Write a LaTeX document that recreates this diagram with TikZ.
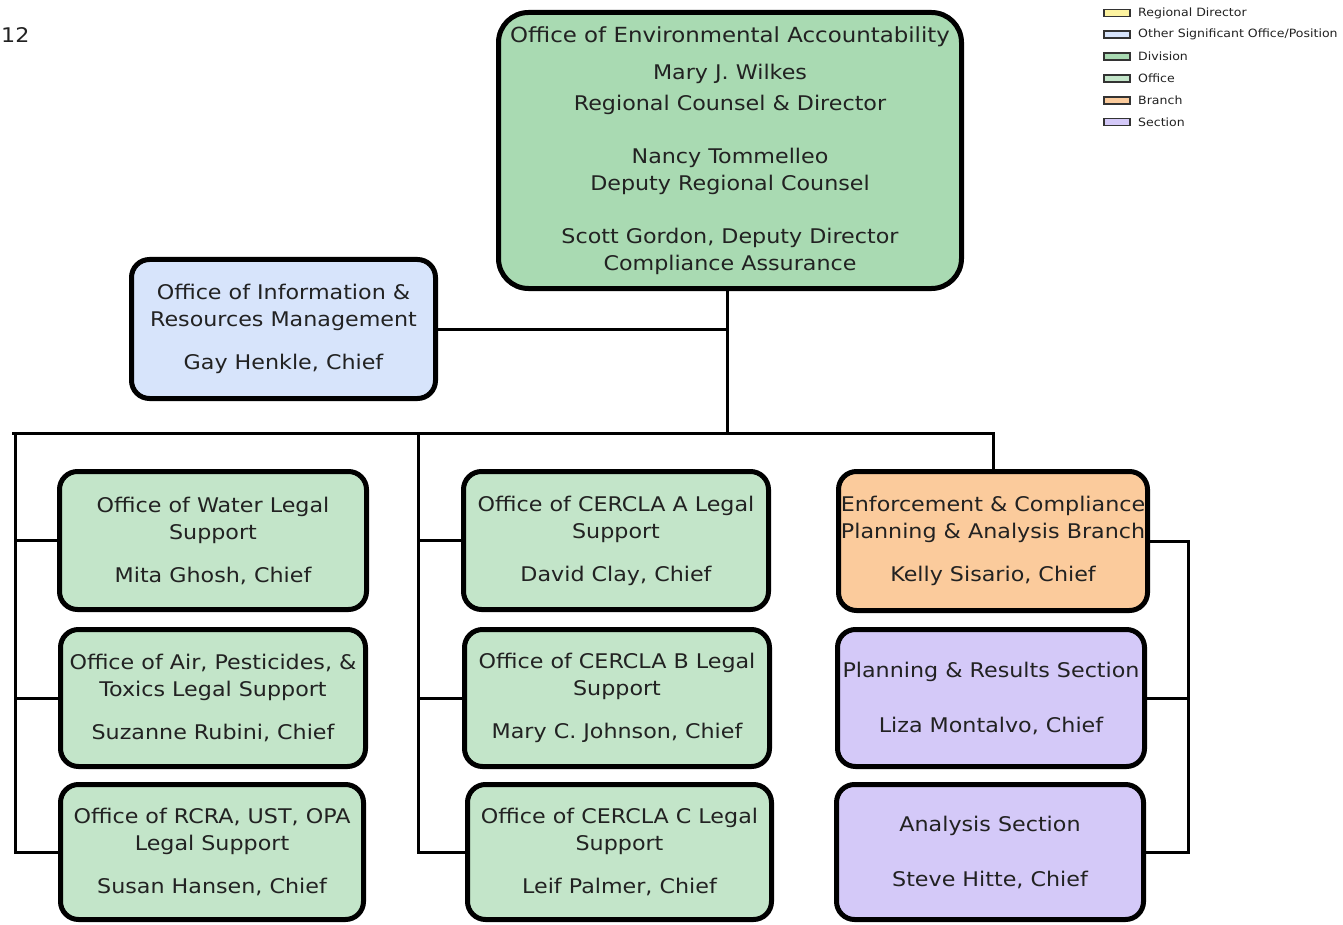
\documentclass[tikz,border=0pt]{standalone}
\usepackage{fontspec}
\setmainfont{DejaVu Sans}[FakeStretch=1.1]
\definecolor{divgreen}{HTML}{A9DAB2}
\definecolor{offgreen}{HTML}{C3E5C9}
\definecolor{sigblue}{HTML}{D7E4FB}
\definecolor{brorange}{HTML}{FBCB9C}
\definecolor{secpurple}{HTML}{D4C9F8}
\definecolor{rdyellow}{HTML}{FDF3A0}
\definecolor{ink}{HTML}{222222}
\tikzset{
  box/.style={draw=black, line width=5pt, rounded corners=18pt, align=center,
    inner sep=0pt, text=ink, font=\fontsize{20.2}{27}\selectfont},
  conn/.style={draw=black, line width=3pt},
  legbox/.style={draw=black!80, line width=1.8pt, minimum width=26pt, minimum height=7pt, inner sep=0pt},
  legtext/.style={anchor=west, inner sep=0pt, text=ink, font=\fontsize{11.4}{12}\selectfont}
}
\begin{document}
\begin{tikzpicture}[x=1pt,y=-1pt]
\path[use as bounding box, fill=white] (0,0) rectangle (1343,925);

% page number at the top left
\node[anchor=west, inner sep=0pt, text=ink, font=\fontsize{20.2}{22}\selectfont] (pnum) at (1,35) {12};

% legend
\foreach \i/\c/\t in {0/rdyellow/{Regional Director},
                       1/sigblue/{Other Significant Office/Position},
                       2/divgreen/{Division},
                       3/offgreen/{Office},
                       4/brorange/{Branch},
                       5/secpurple/{Section}}{
  \node[legbox, fill=\c] (leg\i) at (1117,13+21.8*\i) {};
  \node[legtext] (legt\i) at (1138,13+21.8*\i) {\t};
}

% top-level office
\node[box, fill=divgreen, rounded corners=30pt, minimum width=463pt, minimum height=276pt] (top) at (730,150.5)
  {\fontsize{20.8}{27}\selectfont Office of Environmental Accountability\\[10pt]
   Mary J. Wilkes\\[4pt]
   Regional Counsel \& Director\\[26pt]
   Nancy Tommelleo\\
   Deputy Regional Counsel\\[26pt]
   Scott Gordon, Deputy Director\\
   Compliance Assurance};

\node[box, fill=sigblue, minimum width=304pt, minimum height=139pt] (info) at (283.5,329)
  {Office of Information \&\\ Resources Management\\[16pt] Gay Henkle, Chief};

% left column
\node[box, fill=offgreen, minimum width=307pt, minimum height=138pt] (water) at (213,540.5)
  {Office of Water Legal\\ Support\\[16pt] Mita Ghosh, Chief};
\node[box, fill=offgreen, minimum width=305pt, minimum height=137pt] (air) at (213,698)
  {Office of Air, Pesticides, \&\\ Toxics Legal Support\\[16pt] Suzanne Rubini, Chief};
\node[box, fill=offgreen, minimum width=303pt, minimum height=135pt] (rcra) at (212,852)
  {Office of RCRA, UST, OPA\\ Legal Support\\[16pt] Susan Hansen, Chief};

% middle column
\node[box, fill=offgreen, minimum width=305pt, minimum height=138pt] (cera) at (616,540.5)
  {Office of CERCLA A Legal\\ Support\\[16pt] David Clay, Chief};
\node[box, fill=offgreen, minimum width=305pt, minimum height=137pt] (cerb) at (617,698)
  {Office of CERCLA B Legal\\ Support\\[16pt] Mary C. Johnson, Chief};
\node[box, fill=offgreen, minimum width=304pt, minimum height=135pt] (cerc) at (619.5,852)
  {Office of CERCLA C Legal\\ Support\\[16pt] Leif Palmer, Chief};

% right column
\node[box, fill=brorange, minimum width=309pt, minimum height=139pt] (enf) at (993,541)
  {Enforcement \& Compliance\\ Planning \& Analysis Branch\\[16pt] Kelly Sisario, Chief};
\node[box, fill=secpurple, minimum width=307pt, minimum height=137pt] (plan) at (991,698)
  {Planning \& Results Section\\[28pt] Liza Montalvo, Chief};
\node[box, fill=secpurple, minimum width=307pt, minimum height=135pt] (ana) at (990,852)
  {Analysis Section\\[28pt] Steve Hitte, Chief};

% connector skeleton
\coordinate (hub) at (727,433);
\coordinate (busL) at (12,433);
\coordinate (lx) at (15,433);
\coordinate (mx) at (418,433);
\coordinate (rx) at (1188,541);

\draw[conn] (top.south -| hub) -- (hub);
\draw[conn] (info.east) -- (info.east -| hub);
\draw[conn] (busL) -- (hub) -- (hub -| enf.north) -- (enf.north);

\draw[conn] (lx) -- (lx |- rcra.west) -- (rcra.west);
\draw[conn] (lx |- water.west) -- (water.west);
\draw[conn] (lx |- air.west) -- (air.west);

\draw[conn] (mx) -- (mx |- cerc.west) -- (cerc.west);
\draw[conn] (mx |- cera.west) -- (cera.west);
\draw[conn] (mx |- cerb.west) -- (cerb.west);

\draw[conn] (enf.east) -- (rx) -- (rx |- ana.east) -- (ana.east);
\draw[conn] (plan.east) -- (plan.east -| rx);
\end{tikzpicture}
\end{document}
